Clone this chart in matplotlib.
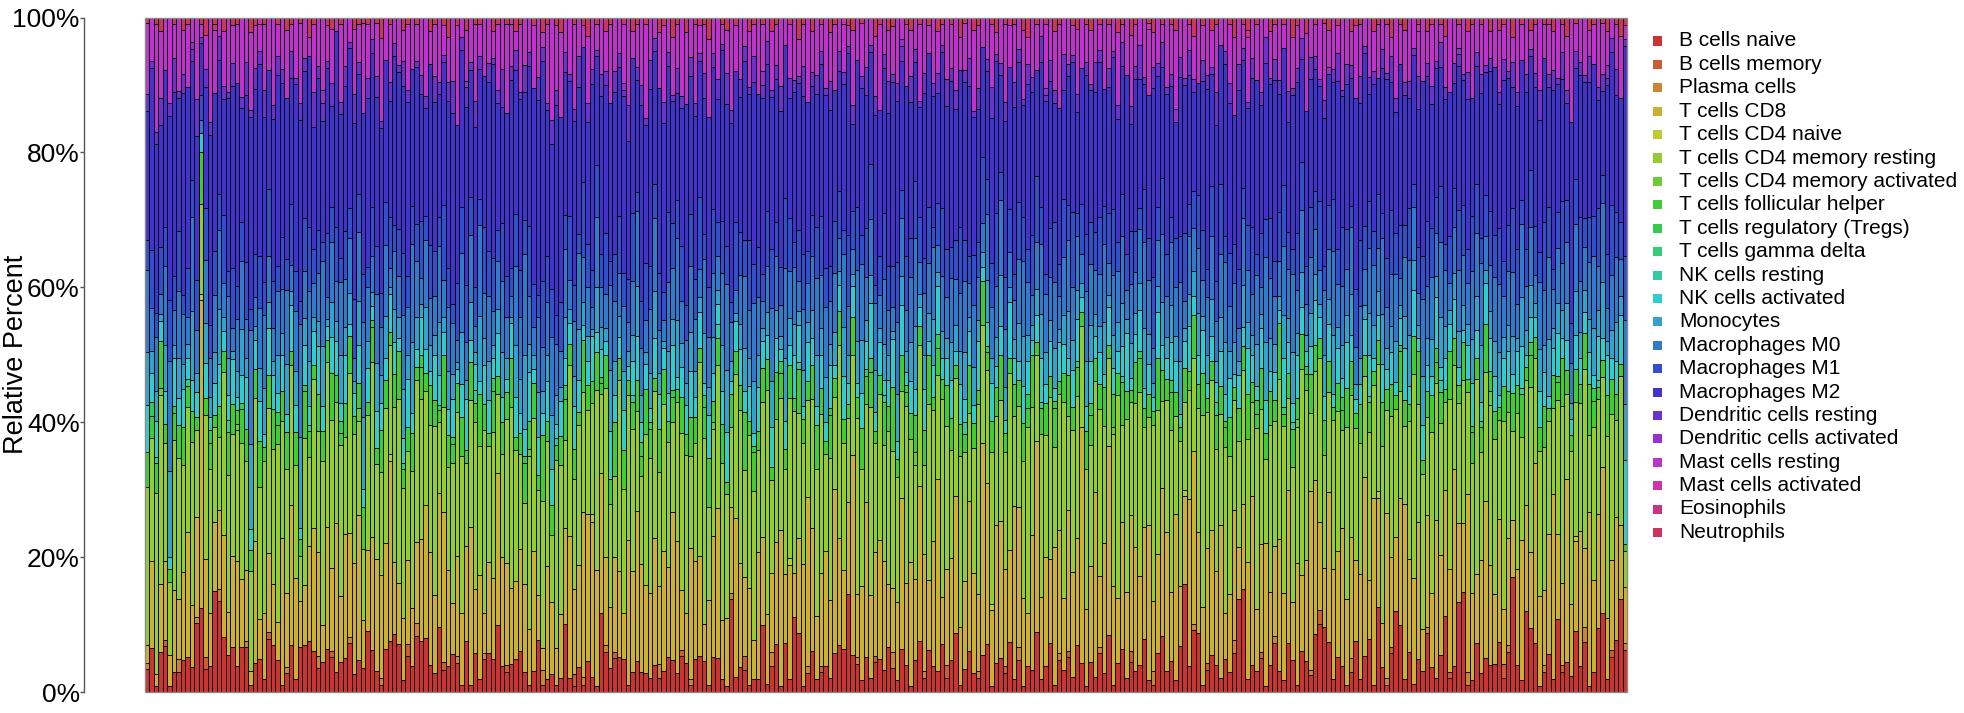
#%% Import libraries
import numpy as np
import matplotlib
matplotlib.use('Agg')
import matplotlib.pyplot as plt
from matplotlib.colors import hsv_to_rgb
from matplotlib.patches import Rectangle

plt.rcParams['font.family'] = ['Liberation Sans', 'DejaVu Sans']

#%% Cell types (stacking order, bottom to top)
cell_types = ['B cells naive', 'B cells memory', 'Plasma cells', 'T cells CD8', 'T cells CD4 naive',
              'T cells CD4 memory resting', 'T cells CD4 memory activated', 'T cells follicular helper',
              'T cells regulatory (Tregs)', 'T cells gamma delta', 'NK cells resting', 'NK cells activated',
              'Monocytes', 'Macrophages M0', 'Macrophages M1', 'Macrophages M2', 'Dendritic cells resting',
              'Dendritic cells activated', 'Mast cells resting', 'Mast cells activated', 'Eosinophils', 'Neutrophils']

y_ticks = [0, 20, 40, 60, 80, 100]
y_tick_labels = ['0%', '20%', '40%', '60%', '80%', '100%']

#%% Estimated fractions per sample (percent; 330 samples)
b_naive = [4, 6, 1, 6, 7, 1, 3, 3, 5, 5, 4, 11, 13, 4, 4, 16, 15, 8, 6, 6, 4, 8, 7, 1, 4, 5, 2, 8, 7, 5,
           1, 3, 7, 2, 8, 7, 8, 6, 4, 5, 6, 6, 3, 5, 5, 8, 3, 5, 4, 9, 6, 4, 1, 6, 8, 9, 7, 2, 6, 4,
           9, 8, 9, 4, 3, 11, 3, 4, 6, 4, 1, 8, 1, 6, 2, 5, 6, 5, 11, 4, 3, 4, 5, 6, 3, 1, 3, 7, 1, 2,
           3, 1, 2, 10, 2, 1, 4, 1, 5, 2, 1, 14, 6, 4, 5, 5, 5, 1, 3, 5, 3, 3, 2, 4, 2, 3, 5, 5, 3, 6,
           4, 1, 5, 5, 5, 1, 5, 5, 2, 1, 14, 2, 4, 3, 1, 2, 2, 10, 1, 4, 7, 1, 7, 2, 12, 8, 1, 3, 6, 2,
           3, 4, 2, 6, 7, 7, 14, 6, 4, 2, 5, 2, 5, 5, 3, 7, 3, 2, 6, 4, 1, 5, 8, 2, 6, 4, 3, 7, 2, 5,
           9, 1, 4, 6, 3, 2, 5, 8, 1, 4, 6, 3, 7, 2, 5, 1, 4, 3, 9, 2, 4, 7, 1, 5, 3, 6, 2, 8, 4, 1,
           5, 2, 6, 3, 9, 1, 4, 7, 2, 5, 3, 4, 8, 2, 1, 6, 9, 3, 5, 2, 7, 16, 4, 10, 10, 1, 3, 6, 4, 2,
           5, 3, 6, 14, 17, 2, 4, 3, 5, 1, 4, 7, 3, 2, 8, 5, 1, 6, 4, 3, 9, 10, 11, 8, 2, 5, 4, 1, 3, 7,
           2, 5, 9, 1, 14, 4, 1, 6, 12, 10, 2, 7, 1, 5, 3, 9, 4, 2, 6, 12, 2, 4, 15, 16, 1, 2, 7, 3, 5, 4,
           4, 8, 2, 6, 18, 4, 2, 13, 10, 7, 1, 3, 6, 2, 12, 3, 5, 2, 11, 4, 7, 1, 3, 10, 14, 2, 5, 8, 15, 6]

t_cd8 = [3, 12, 2, 10, 12, 5, 12, 9, 14, 18, 10, 16, 48, 17, 8, 11, 13, 15, 7, 12, 16, 12, 11, 2, 17, 6, 10, 12, 9, 6,
         20, 12, 21, 15, 8, 9, 15, 18, 17, 6, 17, 14, 22, 11, 18, 17, 19, 23, 8, 12, 16, 21, 15, 15, 28, 11, 9, 10, 14, 9,
         13, 16, 22, 17, 12, 23, 20, 15, 8, 14, 11, 15, 21, 10, 16, 6, 14, 12, 25, 17, 15, 11, 12, 15, 13, 8, 17, 6, 3, 17,
         12, 5, 9, 14, 20, 14, 16, 22, 24, 21, 18, 25, 13, 10, 14, 12, 7, 20, 15, 24, 16, 14, 12, 19, 11, 17, 13, 23, 21, 10,
         7, 20, 15, 14, 6, 12, 17, 22, 9, 11, 13, 21, 17, 11, 14, 6, 20, 13, 9, 12, 15, 25, 10, 17, 7, 13, 20, 26, 18, 10,
         14, 18, 11, 25, 16, 13, 13, 32, 9, 16, 22, 12, 17, 18, 15, 10, 8, 13, 21, 12, 19, 13, 24, 17, 10, 19, 28, 7, 14, 16,
         21, 9, 15, 22, 16, 11, 29, 27, 12, 19, 24, 15, 13, 27, 22, 14, 8, 18, 29, 13, 17, 12, 21, 19, 10, 24, 14, 18, 33, 12,
         16, 25, 11, 20, 30, 15, 9, 21, 12, 23, 18, 13, 17, 26, 10, 15, 24, 20, 11, 27, 9, 13, 26, 28, 17, 11, 16, 20, 14, 22,
         7, 12, 20, 8, 14, 18, 25, 9, 16, 22, 11, 13, 19, 14, 25, 9, 17, 11, 13, 32, 24, 13, 10, 24, 17, 15, 21, 13, 18, 11,
         16, 25, 10, 28, 18, 7, 24, 14, 11, 19, 27, 16, 14, 21, 6, 17, 12, 22, 16, 20, 15, 30, 13, 11, 26, 14, 10, 18, 23, 15,
         10, 20, 8, 16, 9, 14, 23, 17, 12, 26, 15, 11, 19, 28, 14, 12, 30, 9, 16, 21, 11, 27, 14, 18, 26, 9, 13, 19, 12, 8]

t_cd4_resting = [27, 17, 30, 28, 18, 12, 22, 21, 17, 18, 26, 14, 14, 25, 22, 15, 12, 24, 22, 16, 20, 24, 17, 14, 20, 20, 23, 22, 20, 28,
                 16, 20, 21, 17, 8, 22, 14, 22, 20, 27, 23, 25, 18, 25, 14, 26, 22, 15, 12, 20, 25, 18, 15, 19, 17, 24, 27, 21, 18, 21,
                 26, 22, 19, 19, 26, 12, 14, 16, 22, 20, 24, 13, 17, 26, 20, 28, 18, 22, 13, 16, 21, 26, 20, 14, 12, 25, 19, 14, 20, 19,
                 11, 26, 21, 13, 24, 18, 22, 16, 17, 15, 28, 14, 25, 17, 12, 27, 19, 20, 21, 16, 13, 24, 19, 22, 16, 21, 18, 14, 22, 26,
                 22, 14, 18, 27, 30, 13, 15, 21, 24, 20, 12, 19, 25, 15, 22, 23, 16, 20, 29, 14, 18, 21, 15, 24, 26, 17, 20, 15, 19, 23,
                 24, 15, 20, 14, 29, 21, 12, 16, 25, 20, 14, 27, 18, 22, 16, 24, 17, 21, 15, 26, 19, 18, 22, 13, 25, 20, 15, 29, 21, 17,
                 18, 26, 22, 13, 20, 27, 16, 19, 24, 15, 21, 18, 25, 14, 16, 22, 28, 17, 13, 26, 19, 23, 15, 21, 27, 16, 19, 24, 14, 22,
                 20, 15, 26, 18, 14, 23, 28, 16, 24, 19, 21, 27, 15, 18, 25, 22, 14, 19, 26, 16, 22, 13, 17, 15, 21, 27, 19, 24, 18, 16,
                 25, 21, 17, 16, 22, 19, 14, 26, 20, 13, 25, 18, 23, 27, 15, 21, 19, 30, 22, 14, 17, 24, 19, 16, 23, 20, 15, 26, 21, 18,
                 20, 14, 25, 17, 21, 28, 15, 22, 19, 16, 12, 24, 27, 18, 22, 15, 26, 19, 21, 14, 25, 16, 20, 23, 15, 21, 28, 17, 19, 24,
                 22, 16, 27, 19, 14, 23, 17, 20, 26, 15, 24, 21, 18, 13, 22, 26, 14, 19, 24, 20, 25, 12, 23, 18, 16, 27, 21, 15, 24, 5]

t_fh = [6, 3, 5, 7, 3, 2, 4, 5, 6, 3, 5, 2, 8, 3, 4, 2, 5, 3, 7, 4, 2, 6, 5, 3, 4, 7, 2, 5, 6, 3,
        4, 6, 2, 5, 3, 7, 4, 2, 6, 5, 3, 8, 4, 2, 5, 6, 3, 4, 7, 2, 5, 3, 6, 4, 2, 5, 7, 3, 4, 6,
        2, 5, 3, 6, 4, 2, 7, 5, 3, 4, 6, 2, 5, 3, 8, 4, 2, 6, 3, 5, 4, 7, 2, 3, 6, 4, 5, 2, 9, 3,
        5, 2, 4, 6, 3, 5, 2, 7, 4, 3, 6, 2, 5, 4, 8, 3, 6, 2, 4, 5, 3, 7, 4, 2, 6, 5, 3, 4, 2, 6,
        3, 6, 4, 2, 5, 7, 3, 4, 6, 2, 5, 3, 4, 8, 2, 6, 3, 5, 4, 2, 7, 4, 3, 5, 2, 6, 4, 3, 5, 7,
        4, 2, 6, 3, 5, 4, 2, 6, 3, 7, 4, 5, 2, 3, 6, 4, 8, 3, 5, 2, 4, 6, 3, 5, 7, 2, 4, 3, 6, 5,
        2, 5, 3, 7, 4, 2, 6, 3, 5, 4, 8, 3, 2, 5, 4, 6, 3, 7, 2, 4, 5, 3, 6, 2, 4, 7, 3, 5, 2, 6,
        5, 3, 4, 6, 2, 5, 3, 7, 4, 2, 6, 5, 3, 4, 2, 8, 5, 3, 6, 4, 2, 5, 3, 7, 4, 6, 2, 3, 5, 4,
        3, 6, 2, 5, 4, 7, 3, 2, 6, 4, 5, 3, 8, 2, 4, 6, 3, 5, 2, 7, 4, 3, 6, 5, 2, 4, 3, 6, 5, 2,
        6, 3, 5, 2, 4, 7, 3, 5, 2, 6, 4, 3, 5, 8, 2, 4, 6, 3, 5, 2, 7, 4, 3, 6, 2, 5, 3, 4, 7, 3,
        4, 2, 5, 3, 6, 4, 7, 2, 5, 3, 4, 6, 2, 5, 3, 7, 4, 2, 6, 3, 5, 8, 4, 2, 3, 6, 5, 4, 2, 1]

nk_activated = [8, 4, 6, 3, 5, 2, 7, 4, 6, 3, 5, 4, 3, 6, 2, 5, 7, 3, 4, 6, 2, 5, 8, 3, 4, 6, 2, 7, 5, 3,
                5, 3, 7, 4, 2, 6, 3, 5, 8, 4, 2, 6, 5, 3, 7, 2, 4, 6, 3, 5, 2, 7, 4, 3, 6, 5, 2, 4, 8, 3,
                3, 6, 4, 2, 7, 5, 3, 4, 6, 2, 5, 8, 3, 4, 2, 6, 5, 3, 7, 4, 2, 5, 6, 3, 4, 7, 2, 5, 3, 6,
                6, 2, 5, 4, 3, 7, 5, 2, 4, 6, 3, 5, 2, 8, 4, 3, 6, 2, 5, 7, 3, 4, 2, 6, 5, 3, 4, 7, 2, 5,
                4, 7, 3, 5, 2, 6, 4, 3, 5, 8, 2, 4, 6, 3, 5, 2, 7, 4, 3, 6, 5, 2, 4, 3, 7, 5, 2, 6, 4, 3,
                5, 3, 6, 2, 4, 7, 3, 5, 2, 6, 4, 8, 3, 5, 2, 4, 6, 3, 7, 2, 5, 4, 3, 6, 2, 5, 7, 3, 4, 6,
                2, 6, 4, 5, 3, 7, 2, 4, 6, 3, 5, 2, 8, 4, 3, 6, 5, 2, 4, 7, 3, 5, 2, 6, 4, 3, 5, 7, 2, 4,
                7, 3, 5, 2, 6, 4, 3, 5, 8, 2, 4, 6, 3, 5, 2, 7, 4, 3, 6, 5, 2, 4, 7, 3, 5, 6, 2, 4, 3, 5,
                4, 6, 2, 5, 3, 7, 4, 2, 6, 5, 3, 4, 2, 8, 5, 3, 6, 4, 2, 5, 7, 3, 4, 6, 2, 5, 3, 7, 4, 2,
                3, 5, 7, 2, 4, 6, 3, 5, 2, 4, 8, 3, 6, 2, 5, 4, 3, 7, 2, 5, 4, 6, 3, 2, 5, 7, 4, 3, 6, 5,
                5, 2, 4, 6, 3, 5, 7, 2, 4, 3, 6, 5, 2, 4, 7, 3, 5, 2, 6, 4, 3, 5, 2, 7, 4, 6, 3, 5, 8, 12]

monocytes = [9, 3, 5, 1, 7, 14, 2, 6, 4, 2, 11, 3, 0, 7, 3, 5, 9, 2, 6, 1, 4, 8, 3, 12, 2, 5, 7, 4, 2, 6,
             3, 8, 2, 5, 16, 4, 7, 2, 4, 10, 1, 6, 3, 8, 4, 5, 2, 7, 12, 4, 2, 9, 4, 6, 1, 5, 3, 8, 4, 11,
             5, 2, 7, 4, 3, 9, 2, 6, 4, 1, 8, 3, 5, 2, 10, 4, 6, 2, 4, 7, 3, 1, 8, 5, 11, 4, 2, 6, 3, 4,
             9, 4, 2, 6, 2, 5, 8, 3, 4, 1, 7, 4, 2, 10, 5, 3, 6, 2, 4, 8, 4, 2, 5, 7, 3, 1, 6, 4, 9, 4,
             3, 6, 4, 2, 8, 4, 5, 2, 7, 10, 3, 1, 4, 6, 4, 8, 5, 2, 3, 7, 4, 2, 9, 4, 5, 2, 6, 3, 4, 8,
             4, 7, 3, 5, 2, 8, 4, 2, 6, 9, 3, 4, 7, 2, 5, 4, 1, 8, 4, 3, 6, 10, 2, 5, 4, 7, 2, 4, 3, 6,
             4, 5, 8, 2, 6, 3, 2, 7, 4, 4, 9, 5, 2, 3, 6, 8, 4, 2, 4, 7, 5, 3, 6, 2, 4, 8, 4, 5, 2, 7,
             6, 3, 4, 8, 2, 5, 4, 7, 2, 6, 3, 4, 9, 5, 2, 4, 7, 3, 6, 4, 8, 2, 5, 4, 7, 2, 4, 6, 3, 5,
             8, 4, 5, 2, 7, 4, 3, 6, 2, 9, 5, 4, 2, 7, 4, 8, 3, 5, 2, 6, 4, 2, 7, 4, 9, 3, 5, 4, 6, 2,
             4, 2, 7, 5, 4, 8, 3, 4, 6, 2, 5, 9, 4, 2, 7, 4, 6, 3, 8, 5, 2, 4, 6, 4, 3, 7, 5, 9, 2, 4,
             5, 7, 3, 4, 6, 2, 8, 4, 5, 2, 7, 4, 9, 3, 5, 4, 6, 2, 8, 4, 3, 5, 7, 4, 10, 2, 4, 6, 3, 8]

macro_m0 = [14, 6, 9, 3, 12, 18, 5, 10, 8, 4, 15, 7, 2, 11, 6, 9, 13, 5, 10, 3, 8, 12, 6, 16, 4, 9, 11, 7, 5, 10,
            6, 12, 4, 9, 20, 7, 11, 5, 8, 14, 3, 10, 6, 12, 7, 9, 4, 11, 16, 8, 5, 13, 7, 10, 3, 9, 6, 12, 8, 15,
            9, 4, 11, 7, 6, 13, 5, 10, 8, 3, 12, 6, 9, 4, 14, 7, 10, 5, 8, 11, 6, 3, 12, 9, 15, 7, 4, 10, 6, 8,
            13, 7, 5, 10, 4, 9, 12, 6, 8, 3, 11, 7, 5, 14, 9, 6, 10, 4, 8, 12, 7, 5, 9, 11, 6, 3, 10, 8, 13, 7,
            6, 10, 8, 4, 12, 7, 9, 5, 11, 14, 6, 3, 8, 10, 7, 12, 9, 4, 6, 11, 8, 5, 13, 7, 9, 4, 10, 6, 8, 12,
            8, 11, 6, 9, 5, 12, 7, 4, 10, 13, 6, 8, 11, 5, 9, 7, 3, 12, 8, 6, 10, 14, 5, 9, 7, 11, 4, 8, 6, 10,
            7, 9, 12, 5, 10, 6, 4, 11, 8, 7, 13, 9, 5, 6, 10, 12, 8, 4, 7, 11, 9, 6, 10, 5, 8, 12, 7, 9, 4, 11,
            10, 6, 8, 12, 5, 9, 7, 11, 4, 10, 6, 8, 13, 9, 5, 7, 11, 6, 10, 8, 12, 4, 9, 7, 11, 5, 8, 10, 6, 9,
            12, 7, 9, 5, 11, 8, 6, 10, 4, 13, 9, 7, 5, 11, 8, 12, 6, 9, 4, 10, 7, 5, 11, 8, 13, 6, 9, 7, 10, 5,
            8, 5, 11, 9, 7, 12, 6, 8, 10, 4, 9, 13, 7, 5, 11, 8, 10, 6, 12, 9, 4, 7, 10, 8, 6, 11, 9, 13, 5, 7,
            9, 11, 6, 8, 10, 5, 12, 7, 9, 4, 11, 8, 13, 6, 9, 7, 10, 5, 12, 8, 6, 9, 11, 7, 14, 5, 8, 10, 6, 12]

macro_m1 = [5, 8, 4, 7, 6, 10, 5, 9, 3, 7, 6, 8, 4, 9, 5, 7, 6, 10, 4, 8, 5, 7, 9, 3, 6, 8, 5, 10, 7, 4,
            7, 5, 9, 6, 4, 8, 10, 5, 7, 3, 9, 6, 8, 4, 7, 5, 10, 6, 8, 3, 7, 9, 5, 6, 8, 4, 7, 10, 5, 6,
            6, 9, 4, 8, 7, 5, 10, 6, 3, 8, 7, 9, 5, 6, 4, 10, 7, 8, 5, 9, 6, 4, 8, 7, 5, 10, 6, 3, 9, 7,
            8, 4, 7, 5, 9, 6, 3, 10, 7, 5, 8, 6, 9, 4, 7, 8, 5, 6, 10, 3, 7, 9, 6, 5, 8, 4, 10, 7, 6, 9,
            5, 8, 6, 10, 4, 7, 9, 5, 8, 6, 3, 9, 7, 5, 10, 6, 8, 4, 7, 9, 5, 6, 10, 8, 4, 7, 9, 5, 6, 8,
            9, 6, 5, 8, 7, 4, 10, 6, 9, 5, 7, 8, 3, 6, 9, 7, 5, 10, 4, 8, 6, 9, 7, 5, 8, 3, 6, 10, 7, 5,
            6, 10, 7, 4, 8, 5, 9, 6, 7, 10, 5, 8, 6, 4, 9, 7, 5, 8, 10, 6, 3, 7, 9, 5, 8, 6, 10, 4, 7, 9,
            7, 5, 9, 6, 8, 10, 4, 7, 5, 9, 6, 3, 8, 7, 10, 5, 9, 6, 4, 8, 7, 10, 5, 6, 9, 7, 4, 8, 6, 10,
            4, 8, 6, 9, 5, 7, 10, 3, 8, 6, 9, 5, 7, 10, 6, 4, 8, 7, 5, 9, 6, 10, 4, 7, 8, 5, 9, 6, 3, 8,
            10, 6, 8, 5, 9, 4, 7, 10, 6, 8, 5, 9, 3, 7, 6, 10, 8, 5, 9, 4, 7, 6, 10, 8, 5, 9, 7, 4, 6, 8,
            6, 9, 5, 7, 10, 8, 4, 6, 9, 7, 5, 10, 8, 3, 6, 9, 7, 5, 8, 10, 4, 7, 6, 9, 5, 8, 10, 7, 6, 9]

macro_m2 = [22, 25, 28, 18, 24, 30, 27, 20, 32, 26, 19, 23, 8, 21, 29, 25, 22, 17, 28, 24, 31, 20, 26, 27, 23, 29, 25, 18, 24, 30,
            21, 26, 19, 28, 32, 22, 27, 18, 25, 20, 23, 17, 29, 24, 21, 26, 30, 19, 27, 25, 22, 28, 24, 20, 18, 26, 23, 27, 29, 21,
            25, 20, 18, 27, 23, 21, 19, 26, 30, 22, 24, 28, 17, 25, 20, 23, 26, 29, 21, 18, 24, 27, 22, 25, 19, 23, 28, 26, 30, 22,
            24, 29, 26, 21, 19, 27, 23, 18, 20, 25, 17, 28, 22, 26, 24, 21, 27, 19, 23, 18, 29, 22, 25, 20, 26, 24, 21, 19, 17, 23,
            28, 21, 25, 19, 22, 24, 20, 18, 26, 23, 27, 20, 22, 25, 21, 28, 24, 26, 19, 23, 21, 25, 22, 18, 24, 20, 26, 23, 19, 21,
            23, 27, 22, 20, 18, 24, 26, 14, 21, 25, 19, 16, 28, 22, 20, 24, 23, 27, 18, 25, 21, 19, 17, 24, 22, 20, 16, 23, 21, 26,
            20, 24, 27, 25, 22, 19, 15, 18, 23, 21, 17, 24, 20, 26, 22, 18, 25, 19, 16, 23, 27, 21, 18, 24, 15, 22, 20, 17, 19, 25,
            22, 19, 24, 18, 20, 23, 17, 21, 25, 18, 22, 19, 16, 24, 27, 20, 18, 23, 21, 19, 24, 22, 20, 16, 19, 21, 25, 18, 23, 20,
            26, 23, 20, 27, 21, 18, 22, 25, 19, 24, 20, 26, 17, 22, 18, 24, 21, 15, 20, 23, 19, 17, 25, 21, 18, 24, 20, 22, 19, 26,
            21, 24, 18, 22, 19, 23, 26, 20, 18, 24, 20, 19, 17, 21, 25, 22, 20, 18, 19, 23, 21, 16, 24, 20, 22, 19, 17, 23, 18, 21,
            24, 20, 26, 22, 19, 21, 23, 25, 18, 20, 22, 24, 19, 27, 21, 18, 16, 25, 20, 22, 19, 21, 23, 17, 15, 25, 22, 18, 20, 30]

dc_resting = [3, 1, 2, 4, 0, 2, 5, 1, 3, 0, 2, 6, 1, 3, 2, 0, 4, 2, 1, 3, 0, 2, 5, 1, 3, 2, 4, 0, 2, 3,
              2, 0, 4, 1, 3, 2, 0, 5, 2, 3, 1, 4, 0, 2, 3, 1, 5, 2, 0, 3, 2, 4, 1, 0, 3, 2, 1, 4, 2, 0,
              1, 3, 2, 0, 4, 2, 1, 3, 5, 0, 2, 3, 1, 4, 2, 0, 3, 1, 2, 6, 0, 2, 3, 1, 4, 2, 0, 3, 2, 1,
              4, 2, 0, 3, 1, 2, 5, 0, 3, 2, 1, 4, 2, 0, 3, 2, 1, 5, 0, 2, 3, 1, 4, 2, 0, 3, 2, 1, 4, 2,
              0, 3, 2, 1, 4, 0, 2, 3, 1, 5, 2, 0, 3, 2, 1, 4, 0, 2, 3, 1, 2, 4, 0, 3, 2, 1, 5, 0, 2, 3,
              2, 1, 4, 0, 3, 2, 1, 3, 0, 2, 4, 1, 3, 0, 2, 5, 1, 3, 2, 0, 4, 2, 1, 3, 0, 2, 3, 1, 4, 2,
              3, 0, 2, 4, 1, 3, 0, 2, 5, 1, 2, 3, 0, 4, 2, 1, 3, 2, 0, 4, 1, 3, 2, 0, 5, 2, 1, 3, 0, 2,
              1, 4, 2, 0, 3, 1, 2, 4, 0, 3, 2, 5, 1, 0, 3, 2, 4, 1, 2, 0, 3, 1, 4, 2, 0, 3, 2, 1, 5, 0,
              2, 3, 0, 4, 2, 1, 3, 0, 2, 4, 1, 3, 2, 0, 5, 1, 2, 3, 0, 4, 2, 1, 3, 0, 2, 4, 1, 3, 2, 0,
              4, 1, 3, 2, 0, 3, 1, 4, 2, 0, 2, 3, 1, 5, 0, 2, 3, 1, 4, 2, 0, 3, 2, 1, 4, 0, 2, 3, 1, 2,
              0, 2, 3, 1, 4, 2, 0, 3, 1, 2, 5, 0, 2, 3, 1, 4, 2, 0, 3, 2, 1, 4, 0, 2, 3, 1, 2, 4, 0, 1]

mast_resting = [12, 6, 18, 10, 8, 14, 5, 11, 7, 9, 4, 13, 2, 6, 16, 10, 3, 8, 12, 5, 9, 14, 7, 11, 6, 4, 10, 8, 13, 5,
                7, 11, 4, 9, 14, 6, 3, 10, 8, 12, 5, 9, 2, 13, 7, 4, 11, 6, 15, 8, 3, 10, 12, 6, 9, 4, 7, 5, 11, 8,
                6, 9, 13, 5, 8, 11, 4, 7, 10, 14, 3, 8, 6, 12, 5, 9, 7, 4, 11, 8, 13, 6, 3, 10, 7, 5, 9, 8, 2, 12,
                17, 9, 12, 5, 8, 14, 6, 3, 11, 7, 4, 10, 6, 13, 8, 5, 9, 12, 4, 7, 10, 15, 6, 3, 8, 11, 5, 9, 7, 13,
                10, 6, 12, 4, 8, 11, 5, 9, 3, 7, 14, 6, 10, 4, 8, 5, 12, 7, 3, 9, 6, 11, 4, 8, 10, 5, 7, 13, 6, 9,
                4, 11, 7, 10, 5, 8, 3, 12, 6, 9, 7, 4, 10, 13, 5, 8, 6, 11, 3, 9, 7, 5, 12, 8, 4, 10, 6, 3, 9, 7,
                11, 5, 8, 6, 13, 9, 4, 7, 10, 3, 8, 12, 6, 9, 5, 11, 4, 8, 7, 3, 10, 6, 9, 13, 5, 8, 4, 11, 7, 6,
                9, 6, 4, 11, 7, 5, 10, 3, 8, 12, 6, 4, 9, 11, 5, 7, 3, 10, 8, 13, 6, 9, 4, 7, 11, 5, 8, 6, 10, 4,
                5, 9, 12, 7, 4, 10, 6, 8, 11, 3, 7, 5, 9, 4, 12, 8, 6, 3, 10, 7, 5, 9, 13, 6, 8, 4, 11, 7, 5, 10,
                8, 4, 10, 6, 9, 5, 7, 3, 12, 6, 8, 11, 4, 7, 9, 5, 10, 6, 3, 8, 11, 7, 4, 9, 6, 12, 5, 8, 7, 4,
                7, 10, 5, 8, 4, 11, 6, 9, 3, 7, 12, 5, 8, 6, 10, 4, 9, 13, 5, 7, 8, 4, 6, 11, 9, 5, 3, 7, 10, 2]

neutrophils = [1, 0, 1, 2, 0, 0, 1, 0, 2, 1, 0, 0, 1, 3, 0, 1, 0, 2, 0, 1, 1, 0, 0, 2, 1, 0, 1, 0, 0, 1,
               0, 2, 1, 0, 1, 0, 3, 1, 0, 0, 1, 2, 0, 1, 0, 0, 2, 1, 0, 1, 0, 1, 3, 0, 1, 0, 0, 2, 1, 0,
               1, 0, 0, 2, 1, 0, 1, 3, 0, 1, 0, 2, 0, 1, 1, 0, 0, 2, 1, 0, 1, 0, 2, 1, 0, 0, 1, 0, 2, 1,
               0, 1, 2, 0, 0, 1, 0, 1, 3, 0, 1, 0, 2, 1, 0, 0, 1, 0, 2, 1, 0, 1, 0, 0, 2, 1, 0, 3, 1, 0,
               2, 0, 1, 0, 1, 3, 0, 0, 1, 2, 0, 1, 0, 0, 2, 1, 0, 1, 0, 2, 1, 0, 0, 1, 0, 3, 1, 0, 2, 0,
               1, 0, 2, 1, 0, 0, 1, 2, 0, 1, 0, 0, 3, 1, 0, 2, 1, 0, 0, 1, 2, 0, 1, 0, 1, 0, 2, 1, 0, 1,
               0, 3, 1, 0, 2, 1, 0, 0, 1, 2, 0, 1, 0, 1, 0, 2, 3, 0, 1, 0, 1, 0, 2, 1, 0, 0, 1, 2, 0, 1,
               2, 0, 1, 0, 1, 0, 2, 1, 0, 3, 1, 0, 0, 1, 2, 0, 1, 0, 1, 2, 0, 0, 1, 3, 0, 1, 0, 2, 1, 0,
               0, 1, 3, 0, 1, 2, 0, 1, 0, 0, 2, 1, 0, 1, 0, 3, 1, 0, 2, 0, 1, 0, 1, 2, 0, 1, 0, 0, 2, 1,
               1, 0, 0, 2, 1, 0, 1, 3, 0, 1, 2, 0, 0, 1, 0, 2, 1, 0, 1, 3, 0, 0, 1, 0, 2, 1, 0, 1, 0, 2,
               0, 2, 1, 0, 3, 0, 1, 0, 2, 1, 0, 1, 0, 2, 0, 1, 3, 0, 1, 0, 0, 2, 1, 0, 1, 2, 0, 1, 3, 1]

# minor cell types: sample index -> percent (all other samples zero)
b_memory = {4: 1, 13: 2, 27: 1, 41: 1, 58: 2, 66: 1, 80: 1, 95: 2, 104: 1, 119: 1, 133: 2, 150: 1, 162: 1,
            178: 2, 191: 1, 205: 1, 219: 2, 236: 1, 248: 1, 261: 2, 277: 1, 290: 1, 302: 2, 315: 1, 326: 1}
plasma = {0: 1, 7: 2, 11: 1, 16: 2, 22: 1, 31: 1, 38: 2, 45: 1, 52: 1, 60: 2, 69: 1, 75: 1, 88: 2, 97: 1,
          102: 1, 114: 2, 121: 1, 130: 1, 139: 2, 147: 1, 158: 1, 166: 2, 173: 1, 185: 1, 194: 2, 203: 1,
          212: 1, 224: 2, 233: 1, 242: 2, 251: 1, 259: 1, 268: 2, 276: 1, 285: 1, 294: 2, 303: 1, 311: 1,
          320: 2, 329: 1}
t_cd4_naive = {12: 1, 54: 1, 99: 1, 143: 1, 188: 1, 231: 1, 274: 1, 318: 1}
t_cd4_activated = {3: 1, 20: 1, 47: 2, 85: 1, 126: 1, 171: 2, 215: 1, 256: 1, 299: 2}
t_regs = {1: 2, 6: 1, 14: 2, 21: 1, 29: 2, 35: 1, 43: 2, 50: 1, 61: 2, 68: 1, 77: 2, 84: 1, 93: 2, 101: 1,
          110: 2, 117: 1, 124: 2, 135: 1, 141: 2, 152: 1, 161: 2, 169: 1, 176: 2, 187: 1, 196: 2, 202: 1,
          210: 2, 221: 1, 228: 2, 240: 1, 247: 2, 258: 1, 266: 2, 279: 1, 287: 2, 295: 1, 308: 2, 314: 1, 322: 2}
t_gamma_delta = {9: 1, 65: 1, 112: 1, 160: 1, 207: 1, 253: 1, 297: 1}
nk_resting = {2: 1, 18: 2, 36: 1, 57: 1, 73: 2, 91: 1, 108: 1, 127: 2, 145: 1, 164: 1, 182: 2, 199: 1,
              217: 1, 238: 2, 255: 1, 272: 1, 288: 2, 306: 1, 323: 1}
dc_activated = {10: 1, 39: 2, 71: 1, 106: 1, 137: 2, 168: 1, 200: 1, 229: 2, 263: 1, 292: 1, 325: 2}
mast_activated = {25: 1, 81: 1, 155: 1, 223: 1, 283: 1}
eosinophils = {15: 1, 48: 1, 123: 1, 192: 1, 245: 1, 312: 1}

#%% Build the cell type x sample table
n = len(b_naive)
def dense(d):
    a = np.zeros(n)
    for k, v in d.items():
        a[k] = v
    return a

series = [b_naive, dense(b_memory), dense(plasma), t_cd8, dense(t_cd4_naive), t_cd4_resting,
          dense(t_cd4_activated), t_fh, dense(t_regs), dense(t_gamma_delta), dense(nk_resting), nk_activated,
          monocytes, macro_m0, macro_m1, macro_m2, dc_resting, dense(dc_activated), mast_resting,
          dense(mast_activated), dense(eosinophils), neutrophils]
for name, s in zip(cell_types, series):
    assert len(s) == n, name + ' has %d values' % len(s)
data = np.array(series, dtype=float)
data = data / data.sum(axis=0) * 100 # relative percent per sample

# rainbow palette, muted
colours = [hsv_to_rgb((i / len(cell_types), 0.75, 0.8)) for i in range(len(cell_types))]

#%% Plot
W, H = 1965, 713
fig = plt.figure(figsize=(W / 100, H / 100), dpi=100)
ax = fig.add_axes([145 / W, 1 - 692 / H, (1627 - 145) / W, (692 - 17.5) / H])

x = np.arange(n)
bottom = np.zeros(n)
for i in range(len(cell_types)):
    ax.bar(x, data[i], bottom=bottom, width=1.0, color=colours[i], edgecolor='black', linewidth=0.6)
    bottom += data[i]

ax.set_xlim(-0.5, n - 0.5)
ax.set_ylim(0, 100)
ax.set_xticks([])
for side in ['top', 'right', 'bottom']:
    ax.spines[side].set_visible(False)
ax.spines['left'].set_position(('outward', 44))
ax.spines['left'].set_color('#555555')
ax.spines['left'].set_linewidth(1.0)
ax.set_yticks(y_ticks)
ax.set_yticklabels(y_tick_labels)
ax.tick_params(axis='y', length=3, width=1, pad=0, labelsize=19, color='#555555')

# thin grey frame round the bars
ax.add_patch(Rectangle((0, 0), 1, 1, transform=ax.transAxes, fill=False, edgecolor='#8a8a8a',
                       linewidth=1.0, clip_on=False, zorder=5))

fig.text(16 / W, 1 - 354 / H, 'Relative Percent', rotation=90, va='center', ha='center', fontsize=19.5)

# legend: coloured squares with labels
sq = 9
for i, name in enumerate(cell_types):
    yc = 1 - (41 + 23.4 * i) / H
    fig.add_artist(Rectangle((1657 / W - sq / 2 / W, yc - sq / 2 / H), sq / W, sq / H,
                             transform=fig.transFigure, facecolor=colours[i], edgecolor='none'))
    fig.text(1679 / W, yc, name, va='center', ha='left', fontsize=15)

fig.savefig('out.png', dpi=100)
